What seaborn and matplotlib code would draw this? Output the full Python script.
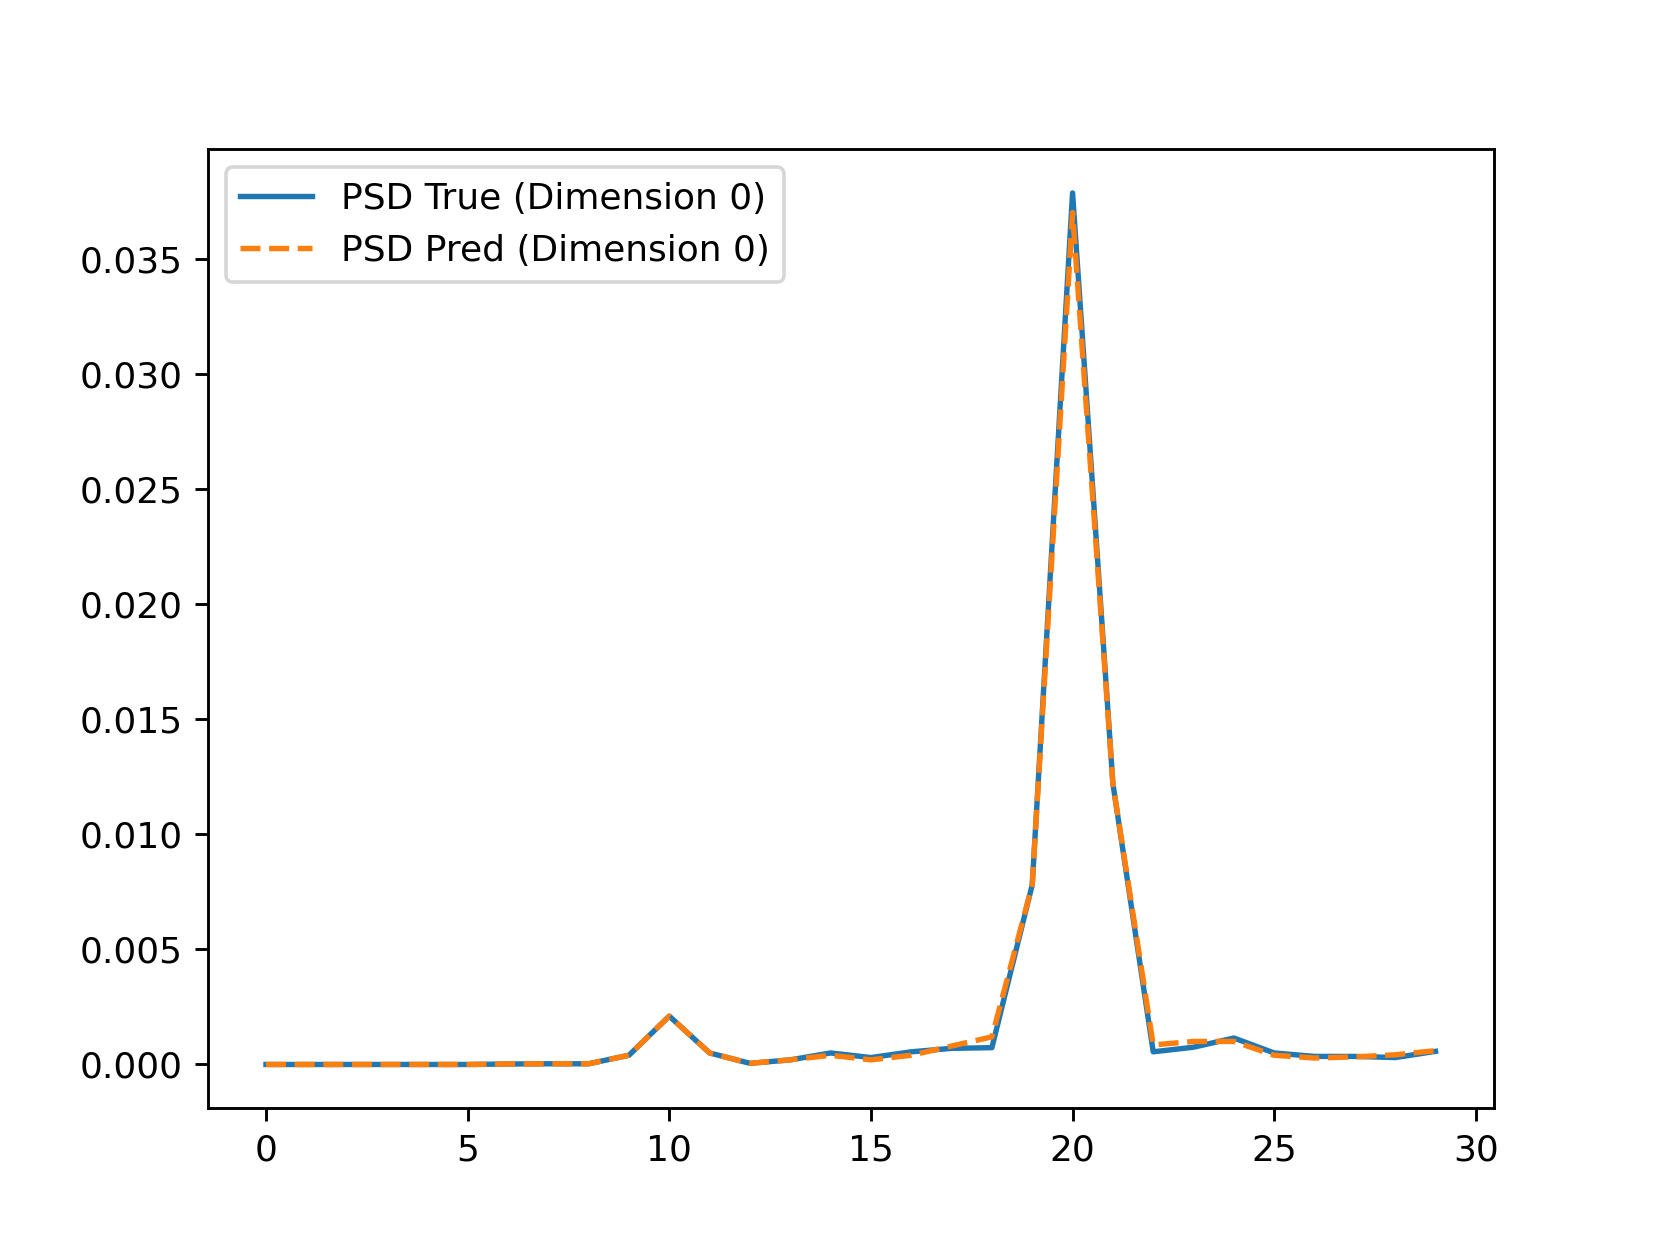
import numpy as np
import matplotlib
matplotlib.use("Agg")
import matplotlib.pyplot as plt
import seaborn as sns

# PSD values per frequency bin
freq = np.arange(30)
psd_true = [0.0, 0.0, 0.0, 0.0, 0.0, 0.0, 0.00002, 0.00003, 0.00003, 0.0004,
            0.0021, 0.0005, 0.00005, 0.0002, 0.0005, 0.0003, 0.00055, 0.0007, 0.00073, 0.0078,
            0.03785, 0.0122, 0.00055, 0.00075, 0.00115, 0.0005, 0.00035, 0.00035, 0.0003, 0.00057]
psd_pred = [0.0, 0.0, 0.0, 0.0, 0.0, 0.0, 0.00002, 0.00003, 0.00003, 0.0004,
            0.0021, 0.0005, 0.00005, 0.0002, 0.0004, 0.0002, 0.0004, 0.0008, 0.0012, 0.0078,
            0.0370, 0.0122, 0.00085, 0.001, 0.001, 0.0004, 0.00028, 0.00033, 0.00042, 0.0006]

fig, ax = plt.subplots(figsize=(6.4, 4.8), dpi=259.375)
sns.lineplot(x=freq, y=psd_true, ax=ax, color="C0", label="PSD True (Dimension 0)")
sns.lineplot(x=freq, y=psd_pred, ax=ax, color="C1", linestyle="--", label="PSD Pred (Dimension 0)")
ax.legend(loc="upper left")

fig.savefig("out.png", dpi=259.375)
